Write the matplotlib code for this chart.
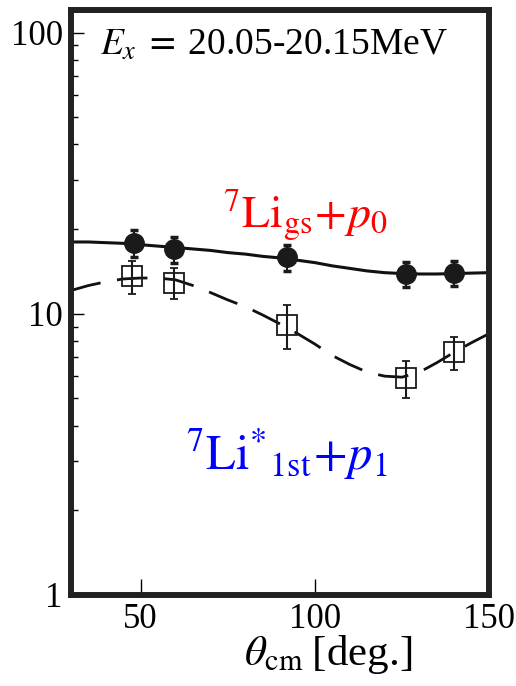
import matplotlib
matplotlib.use("Agg")
import matplotlib.pyplot as plt
import numpy as np

plt.rcParams['font.family'] = ['Liberation Serif', 'DejaVu Serif']
plt.rcParams['mathtext.fontset'] = 'stix'

# measured points, ground state (filled circles)
gs_theta = [48, 59.5, 92, 126, 140]
gs_val = [17.9, 17.0, 15.9, 13.9, 14.0]
gs_err = [2.0, 1.8, 1.7, 1.4, 1.4]

# measured points, first excited state (open squares)
ex_theta = [47.5, 59.5, 92, 126, 140]
ex_val = [13.6, 12.9, 9.1, 5.9, 7.3]
ex_err = [1.8, 1.6, 1.6, 0.9, 1.0]

# calculated curves
curve_theta = [30, 35, 40, 45, 50, 55, 60, 65, 70, 75, 80, 85, 90,
               95, 100, 105, 110, 115, 120, 125, 130, 135, 140, 145, 150]
gs_curve = [18.0, 18.0, 17.9, 17.8, 17.6, 17.4, 17.2, 17.0, 16.8, 16.5, 16.3, 16.0, 15.8,
            15.5, 15.2, 14.8, 14.5, 14.2, 14.0, 13.9, 13.85, 13.85, 13.9, 13.95, 14.0]
ex_curve = [12.1, 12.6, 13.0, 13.3, 13.4, 13.4, 13.2, 12.6, 11.9, 11.2, 10.6, 9.9, 9.2,
            8.5, 7.8, 7.1, 6.6, 6.2, 6.0, 5.95, 6.2, 6.7, 7.3, 7.9, 8.5]

fig = plt.figure(figsize=(5.16, 6.86), dpi=100)
ax = fig.add_axes([0.1376, 0.1327, 0.948 - 0.1376, 0.985 - 0.1327])

ax.plot(curve_theta, gs_curve, color='#111111', lw=2.2, zorder=2)
ax.plot(curve_theta, ex_curve, color='#111111', lw=2.0, dashes=(11, 6), zorder=2)

ax.errorbar(gs_theta, gs_val, yerr=gs_err, fmt='o', ms=14, color='#1a1a1a',
            mec='#1a1a1a', ecolor='#1a1a1a', elinewidth=1.5, capsize=3, capthick=2.5, zorder=4)
ax.errorbar(ex_theta, ex_val, yerr=ex_err, fmt='s', ms=14, mfc='none', mec='#1a1a1a',
            mew=1.3, ecolor='#1a1a1a', elinewidth=1.5, capsize=3, capthick=2.5, zorder=4)

ax.set_yscale('log')
ax.set_xlim(30, 150)
ax.set_ylim(1, 120)
ax.set_xticks([50, 100, 150])
ax.set_xticklabels(['50', '100', '150'])
ax.set_yticks([1, 10, 100])
ax.set_yticklabels(['1', '10', '100'])
ax.yaxis.set_minor_locator(matplotlib.ticker.LogLocator(base=10, subs=np.arange(2, 10)))
ax.yaxis.set_minor_formatter(matplotlib.ticker.NullFormatter())

ax.tick_params(axis='both', which='both', direction='in', labelsize=25, width=1, pad=6)
ax.tick_params(axis='y', which='major', length=9.5, right=False)
ax.tick_params(axis='y', which='minor', length=5, right=False)
ax.tick_params(axis='x', which='major', length=11.5, top=False)
for s in ax.spines.values():
    s.set_linewidth(4.3)
    s.set_color('#222222')

ax.set_xlabel(r'$\theta_{\rm cm}\;$[deg.]', fontsize=31, labelpad=2)
ax.xaxis.set_label_coords(0.615, -0.065)

ax.text(0.07, 0.94, r'$E_x\;=\;$20.05-20.15MeV', transform=ax.transAxes,
        fontsize=27, ha='left', va='center')
ax.text(0.56, 0.65, r'$^{7}\mathrm{Li}_{\mathrm{gs}}\!+\!p_0$', transform=ax.transAxes,
        fontsize=33, color='red', ha='center', va='center')
ax.text(0.515, 0.24, r'$^{7}\mathrm{Li}^{*}{}_{\mathrm{1st}}\!+\!p_1$', transform=ax.transAxes,
        fontsize=35, color='blue', ha='center', va='center')

fig.savefig('out.png', dpi=100)
